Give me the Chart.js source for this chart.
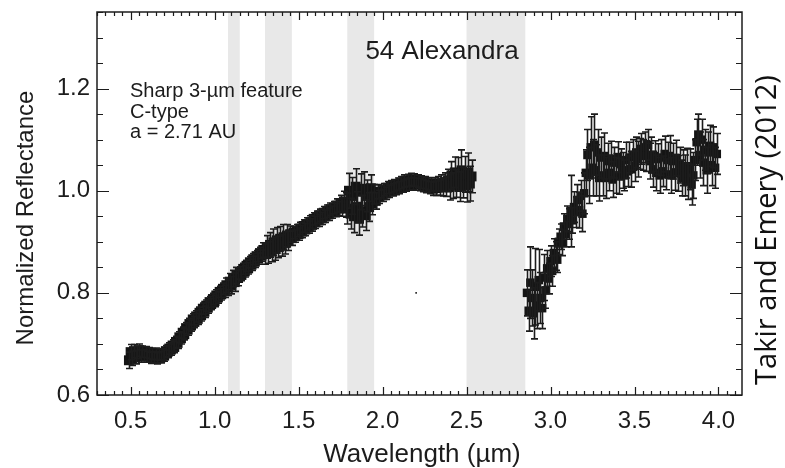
<!DOCTYPE html>
<html><head><meta charset="utf-8">
<script src="https://cdn.jsdelivr.net/npm/chart.js@4.4.1/dist/chart.umd.min.js"></script>
<style>html,body{margin:0;padding:0;background:#fff}</style>
</head><body>
<canvas id="c" width="785" height="468"></canvas>
<script>
// ---- data ----
const wl1 = [
0.49,0.50,0.51,0.52,0.53,0.54,0.55,0.56,0.57,0.58,
0.59,0.60,0.61,0.62,0.63,0.64,0.65,0.66,0.67,0.68,
0.69,0.70,0.71,0.72,0.73,0.74,0.75,0.76,0.77,0.78,
0.79,0.80,0.81,0.82,0.83,0.84,0.85,0.86,0.87,0.88,
0.89,0.90,0.91,0.92,0.93,0.94,0.95,0.96,0.97,0.98,
0.99,1.00,1.01,1.02,1.03,1.04,1.05,1.06,1.07,1.08,
1.09,1.10,1.11,1.12,1.13,1.14,1.15,1.16,1.17,1.18,
1.19,1.20,1.21,1.22,1.23,1.24,1.25,1.26,1.27,1.28,
1.29,1.30,1.31,1.32,1.33,1.34,1.35,1.36,1.37,1.38,
1.39,1.40,1.41,1.42,1.43,1.44,1.45,1.46,1.47,1.48,
1.49,1.50,1.51,1.52,1.53,1.54,1.55,1.56,1.57,1.58,
1.59,1.60,1.61,1.62,1.63,1.64,1.65,1.66,1.67,1.68,
1.69,1.70,1.71,1.72,1.73,1.74,1.75,1.76,1.77,1.78,
1.79,1.80,1.81,1.82,1.83,1.84,1.85,1.86,1.87,1.88,
1.89,1.90,1.91,1.92,1.93,1.94,1.95,1.96,1.97,1.98,
1.99,2.00,2.01,2.02,2.03,2.04,2.05,2.06,2.07,2.08,
2.09,2.10,2.11,2.12,2.13,2.14,2.15,2.16,2.17,2.18,
2.19,2.20,2.21,2.22,2.23,2.24,2.25,2.26,2.27,2.28,
2.29,2.30,2.31,2.32,2.33,2.34,2.35,2.36,2.37,2.38,
2.39,2.40,2.41,2.42,2.43,2.44,2.45,2.46,2.47,2.48,
2.49,2.50,2.51,2.52,2.53];
const refl1 = [
0.668,0.684,0.672,0.686,0.674,0.683,0.688,0.676,0.685,0.678,
0.684,0.675,0.682,0.673,0.680,0.674,0.681,0.672,0.679,0.674,
0.680,0.677,0.686,0.684,0.691,0.689,0.697,0.694,0.704,0.702,
0.713,0.711,0.722,0.719,0.731,0.728,0.739,0.736,0.748,0.743,
0.754,0.749,0.761,0.756,0.769,0.763,0.775,0.771,0.782,0.778,
0.788,0.784,0.795,0.791,0.802,0.797,0.808,0.803,0.815,0.810,
0.822,0.815,0.828,0.821,0.834,0.829,0.839,0.835,0.847,0.842,
0.853,0.848,0.860,0.855,0.866,0.861,0.872,0.867,0.878,0.873,
0.884,0.876,0.890,0.879,0.894,0.883,0.899,0.886,0.903,0.890,
0.906,0.893,0.909,0.898,0.912,0.902,0.915,0.907,0.918,0.911,
0.922,0.915,0.926,0.920,0.931,0.924,0.935,0.929,0.939,0.933,
0.945,0.938,0.948,0.942,0.952,0.946,0.957,0.950,0.960,0.954,
0.964,0.958,0.967,0.962,0.971,0.965,0.975,0.968,0.979,0.972,
0.965,1.000,0.955,0.990,0.950,1.008,0.968,0.945,0.998,0.960,
1.004,0.952,0.990,0.968,1.005,0.975,0.993,0.980,0.998,0.988,
0.998,0.991,1.002,0.995,1.006,0.999,1.008,1.002,1.010,1.004,
1.013,1.006,1.016,1.009,1.019,1.011,1.020,1.013,1.022,1.014,
1.021,1.013,1.019,1.012,1.017,1.010,1.016,1.008,1.014,1.006,
1.012,1.004,1.013,1.005,1.014,1.006,1.015,1.007,1.017,1.008,
1.020,1.007,1.030,1.010,1.036,1.014,1.032,1.008,1.040,1.016,
1.032,1.010,1.036,1.014,1.028];
const err1 = [
0.016,0.015,0.014,0.013,0.013,0.012,0.012,0.012,0.011,0.011,
0.011,0.011,0.011,0.011,0.011,0.011,0.011,0.011,0.011,0.011,
0.011,0.011,0.011,0.011,0.011,0.011,0.011,0.011,0.011,0.011,
0.011,0.011,0.011,0.011,0.011,0.011,0.011,0.011,0.011,0.011,
0.011,0.011,0.011,0.011,0.011,0.011,0.011,0.011,0.011,0.011,
0.011,0.011,0.011,0.011,0.011,0.011,0.011,0.012,0.014,0.015,
0.016,0.017,0.016,0.018,0.016,0.015,0.012,0.011,0.011,0.011,
0.011,0.011,0.011,0.011,0.011,0.011,0.011,0.011,0.011,0.011,
0.014,0.020,0.022,0.021,0.024,0.022,0.026,0.022,0.025,0.021,
0.024,0.021,0.025,0.022,0.022,0.019,0.016,0.014,0.012,0.012,
0.012,0.012,0.012,0.012,0.012,0.012,0.012,0.012,0.012,0.012,
0.012,0.012,0.012,0.012,0.012,0.012,0.012,0.012,0.012,0.012,
0.012,0.012,0.012,0.013,0.013,0.014,0.016,0.018,0.020,0.024,
0.030,0.034,0.030,0.036,0.032,0.035,0.030,0.032,0.035,0.031,
0.033,0.030,0.031,0.028,0.026,0.022,0.019,0.016,0.014,0.013,
0.012,0.012,0.012,0.012,0.012,0.012,0.012,0.012,0.012,0.012,
0.012,0.012,0.012,0.012,0.012,0.012,0.012,0.012,0.012,0.012,
0.012,0.012,0.012,0.012,0.012,0.012,0.012,0.012,0.012,0.012,
0.013,0.013,0.013,0.014,0.014,0.015,0.016,0.017,0.018,0.019,
0.022,0.025,0.027,0.025,0.030,0.027,0.033,0.029,0.040,0.030,
0.035,0.032,0.038,0.034,0.032];
const wl2 = [
2.86,2.87,2.88,2.89,2.90,2.91,2.92,2.93,2.94,2.95,
2.96,2.97,2.98,2.99,3.00,3.01,3.02,3.03,3.04,3.05,
3.06,3.07,3.08,3.09,3.10,3.11,3.12,3.13,3.14,3.15,
3.16,3.17,3.18,3.19,3.20,3.21,3.22,3.23,3.24,3.25,
3.26,3.27,3.28,3.29,3.30,3.31,3.32,3.33,3.34,3.35,
3.36,3.37,3.38,3.39,3.40,3.41,3.42,3.43,3.44,3.45,
3.46,3.47,3.48,3.49,3.50,3.51,3.52,3.53,3.54,3.55,
3.56,3.57,3.58,3.59,3.60,3.61,3.62,3.63,3.64,3.65,
3.66,3.67,3.68,3.69,3.70,3.71,3.72,3.73,3.74,3.75,
3.76,3.77,3.78,3.79,3.80,3.81,3.82,3.83,3.84,3.85,
3.86,3.87,3.88,3.89,3.90,3.91,3.92,3.93,3.94,3.95,
3.96,3.97,3.98,3.99];
const refl2 = [
0.800,0.765,0.820,0.790,0.760,0.812,0.775,0.825,0.790,0.770,
0.830,0.805,0.848,0.828,0.862,0.843,0.878,0.872,0.865,0.900,
0.910,0.898,0.930,0.915,0.945,0.935,0.960,0.942,0.968,0.958,
0.982,0.962,0.990,0.955,0.995,1.035,1.070,1.030,1.085,1.045,
1.090,1.040,1.075,1.025,1.065,1.030,1.068,1.025,1.058,1.035,
1.062,1.022,1.055,1.030,1.066,1.028,1.052,1.040,1.030,1.060,
1.038,1.065,1.042,1.070,1.048,1.075,1.062,1.072,1.082,1.070,
1.085,1.068,1.090,1.058,1.070,1.042,1.068,1.035,1.062,1.030,
1.065,1.038,1.072,1.032,1.060,1.068,1.030,1.058,1.036,1.064,
1.034,1.050,1.025,1.045,1.030,1.048,1.018,1.042,1.012,1.030,
1.060,1.095,1.110,1.070,1.100,1.055,1.080,1.040,1.075,1.088,
1.050,1.085,1.045,1.072];
const err2 = [
0.045,0.040,0.070,0.055,0.050,0.075,0.045,0.060,0.050,0.040,
0.045,0.035,0.035,0.030,0.030,0.030,0.028,0.028,0.025,0.025,
0.025,0.025,0.025,0.025,0.025,0.030,0.070,0.025,0.030,0.030,
0.030,0.035,0.030,0.035,0.040,0.045,0.050,0.055,0.060,0.055,
0.060,0.050,0.045,0.045,0.040,0.040,0.045,0.040,0.035,0.035,
0.035,0.035,0.030,0.035,0.030,0.035,0.030,0.035,0.030,0.035,
0.030,0.030,0.035,0.030,0.030,0.030,0.035,0.030,0.030,0.030,
0.030,0.030,0.030,0.035,0.035,0.035,0.030,0.035,0.030,0.035,
0.035,0.030,0.035,0.030,0.035,0.040,0.035,0.035,0.035,0.035,
0.035,0.035,0.035,0.035,0.040,0.035,0.035,0.040,0.040,0.045,
0.040,0.045,0.040,0.045,0.040,0.045,0.040,0.045,0.040,0.040,
0.040,0.040,0.040,0.040];
const strayWl = [2.20];
const strayRefl = [0.80];
const bands = [[1.08,1.15],[1.30,1.46],[1.79,1.95],[2.50,2.85]];
const xTicks = [0.5,1.0,1.5,2.0,2.5,3.0,3.5,4.0];
const yTicks = [0.6,0.8,1.0,1.2];
const xRange = [0.3,4.14];
const yRange = [0.6,1.35];
const titleText = '54 Alexandra';
const noteLines = ['Sharp 3-\u00b5m feature','C-type','a = 2.71 AU'];
const xTitle = 'Wavelength (\u00b5m)';
const yTitle = 'Normalized Reflectance';
const sideCredit = 'Takir and Emery (2012)';

// ---- chart ----
const FONT = '"Liberation Sans", Arial, Helvetica, sans-serif';
const INK = '#1c1c1c';
const toPts = (xs, ys) => xs.map((v, i) => ({x: v, y: ys[i]}));

const deco = {
  id: 'deco',
  beforeDatasetsDraw(chart) {
    const {ctx, chartArea: a, scales: {x}} = chart;
    ctx.save();
    ctx.fillStyle = '#e8e8e8';
    bands.forEach(([lo, hi]) => {
      const x0 = x.getPixelForValue(lo), x1 = x.getPixelForValue(hi);
      ctx.fillRect(x0, a.top, x1 - x0, a.bottom - a.top);
    });
    ctx.restore();
  },
  afterDatasetsDraw(chart) {
    const {ctx, chartArea: a, scales: {x, y}} = chart;
    ctx.save();
    ctx.beginPath(); ctx.rect(a.left, a.top, a.right - a.left, a.bottom - a.top); ctx.clip();
    ctx.strokeStyle = INK; ctx.lineWidth = 1.6;
    chart.data.datasets.forEach(ds => {
      if (!ds.errs) return;
      ds.data.forEach((p, i) => {
        const e = ds.errs[i];
        const px = Math.round(x.getPixelForValue(p.x)) + 0.5;
        const y0 = y.getPixelForValue(p.y - e), y1 = y.getPixelForValue(p.y + e);
        ctx.beginPath();
        ctx.moveTo(px, y0); ctx.lineTo(px, y1);
        ctx.moveTo(px - 3.5, y0); ctx.lineTo(px + 3.5, y0);
        ctx.moveTo(px - 3.5, y1); ctx.lineTo(px + 3.5, y1);
        ctx.stroke();
      });
    });
    ctx.restore();
  },
  afterDraw(chart) {
    const {ctx, chartArea: a, scales: {x, y}} = chart;
    ctx.save();
    ctx.strokeStyle = INK; ctx.lineWidth = 1.5;
    ctx.strokeRect(a.left, a.top, a.right - a.left, a.bottom - a.top);
    ctx.lineWidth = 1.2;
    ctx.beginPath();
    for (let k = Math.ceil(xRange[0] / 0.05); k * 0.05 <= xRange[1] + 1e-9; k++) {
      const v = k * 0.05;
      const len = (k % 10 === 0) ? 8 : 4;
      const px = Math.round(x.getPixelForValue(v)) + 0.5;
      ctx.moveTo(px, a.bottom); ctx.lineTo(px, a.bottom - len);
      ctx.moveTo(px, a.top); ctx.lineTo(px, a.top + len);
    }
    for (let k = Math.ceil(yRange[0] / 0.05 - 1e-9); k * 0.05 <= yRange[1] + 1e-9; k++) {
      const v = k * 0.05;
      const len = (k % 4 === 0) ? 12 : 6;
      const py = Math.round(y.getPixelForValue(v)) + 0.5;
      ctx.moveTo(a.left, py); ctx.lineTo(a.left + len, py);
      ctx.moveTo(a.right, py); ctx.lineTo(a.right - len, py);
    }
    ctx.stroke();

    ctx.fillStyle = INK;
    ctx.font = '26px ' + FONT;
    ctx.textAlign = 'center'; ctx.textBaseline = 'alphabetic';
    ctx.fillText(titleText, 442, 59);
    ctx.font = '20px ' + FONT;
    ctx.textAlign = 'left';
    noteLines.forEach((t, i) => ctx.fillText(t, 130, 97 + i * 20.5));
    ctx.font = '26px ' + FONT;
    ctx.textAlign = 'center';
    ctx.fillText(xTitle, 422, 462);
    ctx.save();
    ctx.font = '24px ' + FONT;
    ctx.translate(33, 218);
    ctx.rotate(-Math.PI / 2);
    ctx.fillText(yTitle, 0, 0);
    ctx.restore();
    ctx.save();
    ctx.font = '29px "Open Sans", "Noto Sans", sans-serif';
    ctx.fillStyle = '#111';
    ctx.translate(776, 230);
    ctx.rotate(-Math.PI / 2);
    ctx.fillText(sideCredit, 0, 0);
    ctx.restore();
    ctx.restore();
  }
};

new Chart(document.getElementById('c'), {
  type: 'scatter',
  data: {
    datasets: [
      {data: toPts(wl1, refl1), errs: err1, pointStyle: 'rect', pointRadius: 7, backgroundColor: '#141414', borderWidth: 0},
      {data: toPts(wl2, refl2), errs: err2, pointStyle: 'rect', pointRadius: 6, backgroundColor: '#141414', borderWidth: 0},
      {data: toPts(strayWl, strayRefl), pointStyle: 'rect', pointRadius: 1.2, backgroundColor: '#333', borderWidth: 0}
    ]
  },
  options: {
    responsive: false, devicePixelRatio: 1, animation: false,
    layout: {padding: {top: 12, right: 43, left: 0, bottom: 0}},
    plugins: {legend: {display: false}, tooltip: {enabled: false}},
    scales: {
      x: {
        type: 'linear', min: xRange[0], max: xRange[1],
        grid: {display: false, drawTicks: false}, border: {display: false},
        afterBuildTicks: s => { s.ticks = xTicks.map(v => ({value: v})); },
        afterFit: s => { s.height = 73; s.paddingLeft = 0; s.paddingRight = 0; },
        ticks: {font: {family: FONT, size: 24}, color: INK, padding: 12, maxRotation: 0, autoSkip: false,
          callback: v => Number(v).toFixed(1)}
      },
      y: {
        type: 'linear', min: yRange[0], max: yRange[1],
        grid: {display: false, drawTicks: false}, border: {display: false},
        afterBuildTicks: s => { s.ticks = yTicks.map(v => ({value: v})); },
        afterFit: s => { s.width = 97; s.paddingTop = 0; s.paddingBottom = 0; },
        ticks: {font: {family: FONT, size: 24}, color: INK, padding: 7,
          callback: v => Number(v).toFixed(1)}
      }
    }
  },
  plugins: [deco]
});
</script>
</body></html>
